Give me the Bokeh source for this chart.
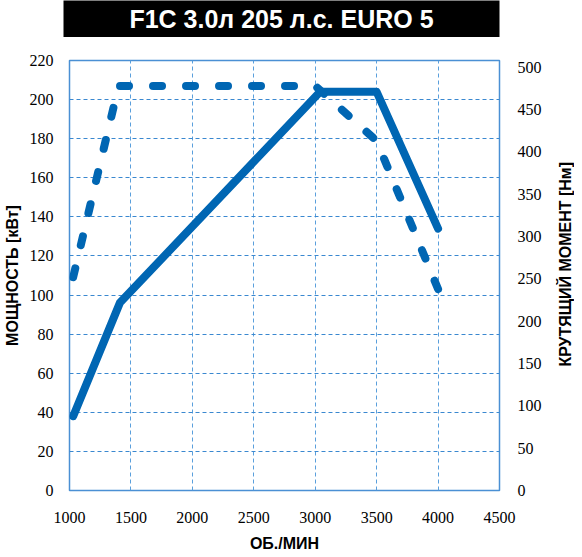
import math
from bokeh.plotting import figure
from bokeh.models import Range1d, LinearAxis, FixedTicker
from bokeh.layouts import column, row
from bokeh.embed import file_html
from bokeh.resources import INLINE
from bokeh.core.properties import value

# ---- texts ----
title_text = "F1C 3.0л 205 л.с. EURO 5"
x_label = "ОБ./МИН"
left_label = "МОЩНОСТЬ [кВт]"
right_label = "КРУТЯЩИЙ МОМЕНТ [Нм]"

# ---- data ----
rpm_power = [1030, 1410, 3040, 3500, 4000]
power_kw = [38, 96, 204, 204, 134]

rpm_torque = [1030, 1400, 3000, 3500, 4000]
torque_nm = [252, 478, 478, 413, 238]

# ---- tick labels ----
x_ticks = [1000, 1500, 2000, 2500, 3000, 3500, 4000, 4500]
power_ticks = [0, 20, 40, 60, 80, 100, 120, 140, 160, 180, 200, 220]
torque_ticks = [0, 50, 100, 150, 200, 250, 300, 350, 400, 450, 500]

LINE = "#0066b3"
FRAME = "#4a90d4"
TICK_FONT = "Liberation Sans Narrow"
LABEL_FONT = "Liberation Sans"

W = 574
SIDE_W = 19
BL = 63
BR = 75

# ---- title bar ----
tf = figure(width=W, height=37, x_range=Range1d(0, 1), y_range=Range1d(0, 1),
            output_backend="svg", toolbar_location=None,
            x_axis_type=None, y_axis_type=None,
            min_border_left=BL, min_border_right=BR,
            min_border_top=0, min_border_bottom=0)
tf.background_fill_color = "black"
tf.border_fill_color = "white"
tf.outline_line_color = None
tf.text(x=[0.5], y=[0.5], text=[title_text], text_align="center",
        text_baseline="middle", text_color="white",
        text_font=value(LABEL_FONT), text_font_style="bold",
        text_font_size="25px")

# ---- main chart ----
p = figure(width=W - SIDE_W, height=520, x_range=Range1d(1000, 4500),
           y_range=Range1d(0, 220), output_backend="svg",
           toolbar_location=None,
           min_border_left=BL, min_border_right=BR - SIDE_W,
           min_border_top=23, min_border_bottom=67)
p.extra_y_ranges = {"torque": Range1d(0, 508)}
p.background_fill_color = "white"
p.border_fill_color = "white"
p.outline_line_color = FRAME
p.outline_line_width = 1.5

p.xaxis.ticker = FixedTicker(ticks=x_ticks)
p.yaxis.ticker = FixedTicker(ticks=power_ticks)
p.xgrid.ticker = FixedTicker(ticks=x_ticks[1:-1])
p.ygrid.ticker = FixedTicker(ticks=power_ticks[1:-1])
p.xgrid.grid_line_color = "#5a9fdc"
p.xgrid.grid_line_dash = "4 3"
p.xgrid.grid_line_width = 1
p.ygrid.grid_line_color = "#3a88d0"
p.ygrid.grid_line_dash = "4 3"
p.ygrid.grid_line_width = 1

right_axis = LinearAxis(y_range_name="torque", ticker=FixedTicker(ticks=torque_ticks))
p.add_layout(right_axis, "right")

for ax in [p.xaxis[0], p.yaxis[0], right_axis]:
    ax.axis_line_color = None
    ax.major_tick_line_color = None
    ax.minor_tick_line_color = None
    ax.major_tick_in = 0
    ax.major_tick_out = 0
    ax.major_label_text_font = TICK_FONT
    ax.major_label_text_font_size = "16px"
    ax.major_label_text_color = "black"
    ax.axis_label_text_font = LABEL_FONT
    ax.axis_label_text_font_style = "bold"
    ax.axis_label_text_font_size = "16px"
    ax.axis_label_text_color = "black"

p.xaxis.axis_label = x_label
p.xaxis.major_label_standoff = 21
p.xaxis.axis_label_standoff = 9
p.yaxis[0].axis_label = left_label
p.yaxis[0].major_label_standoff = 16
p.yaxis[0].axis_label_standoff = 6
right_axis.major_label_standoff = 18

p.line(rpm_power, power_kw, line_color=LINE, line_width=8,
       line_cap="round", line_join="round")
p.line(rpm_torque, torque_nm, y_range_name="torque", line_color=LINE,
       line_width=8, line_dash="9 24", line_cap="round", line_join="round")

# ---- right-hand axis title strip (reads bottom-to-top) ----
side = figure(width=SIDE_W, height=520, x_range=Range1d(0, 1),
              y_range=Range1d(0, 1), output_backend="svg",
              toolbar_location=None, x_axis_type=None, y_axis_type=None,
              min_border_left=0, min_border_right=0,
              min_border_top=0, min_border_bottom=0)
side.outline_line_color = None
side.background_fill_color = "white"
side.border_fill_color = "white"
side.text(x=[0.5], y=[0.526], text=[right_label], angle=math.pi / 2,
          text_align="center", text_baseline="middle", text_color="black",
          text_font=value(LABEL_FONT), text_font_style="bold",
          text_font_size="16px")

layout = column(tf, row(p, side, spacing=0), spacing=0)
open("out.html", "w").write(file_html(layout, INLINE))
